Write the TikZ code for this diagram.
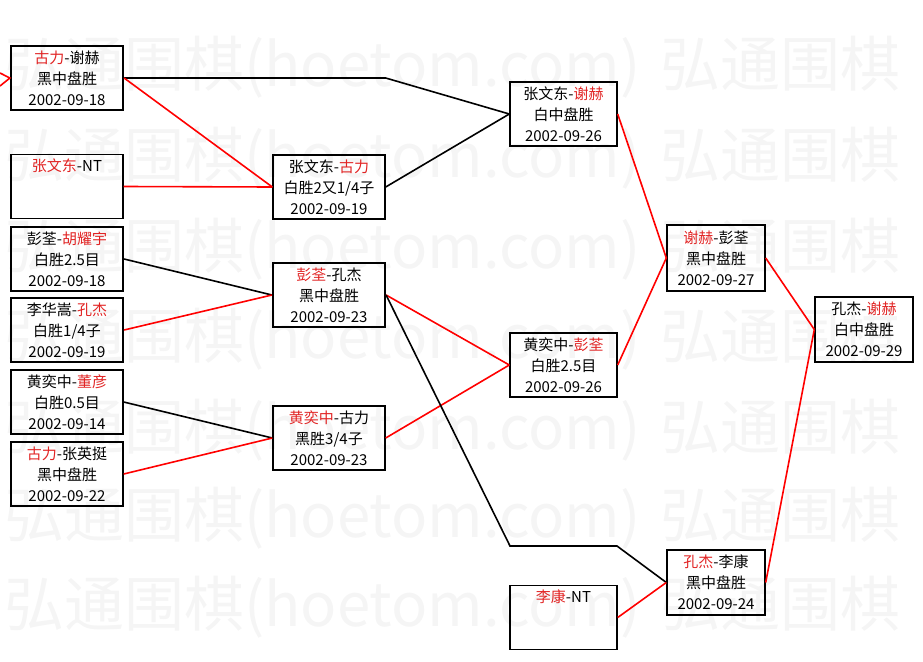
\documentclass[tikz,border=0pt]{standalone}
\usepackage{fontspec}
\usepackage{xcolor}
\usepackage{tikz}
\usetikzlibrary{positioning, calc}
\newfontfamily\cjk{Noto Sans CJK SC}
\definecolor{hred}{RGB}{225,35,35}
\newcommand{\rd}[1]{\textcolor{hred}{#1}}

\begin{document}
\begin{tikzpicture}[x=1pt, y=-1pt,
    game/.style={draw, line width=1.4pt, minimum width=112pt, minimum height=64pt,
        inner sep=0pt, align=center, font=\cjk\fontsize{15}{21}\selectfont},
    thickbox/.style={line width=2.2pt},
    win/.style={red, line width=1.6pt},
    lose/.style={black, line width=1.6pt},
    wmark/.style={anchor=west, inner sep=0pt, text=black!4,
        font=\cjk\fontsize{60}{60}\selectfont}]
    \useasboundingbox (0,0) rectangle (923,661);
    \clip (0,0) rectangle (923,661);
    \foreach \y in {67,158,249,339,430,518,607}
        \node[wmark] at (4,\y) {弘通围棋(hoetom.com)\hspace{20pt}弘通围棋};

    \node[game, thickbox] (a1) at (67,78) {\rd{古力}-谢赫\\ 黑中盘胜\\ 2002-09-18};
    \node[game] (a2) at (67,186.5) {\rd{张文东}-NT\\ \phantom{0}\\ \phantom{0}};
    \node[game, thickbox] (a3) at (67,259) {彭荃-\rd{胡耀宇}\\ 白胜2.5目\\ 2002-09-18};
    \node[game, thickbox] (a4) at (67,330) {李华嵩-\rd{孔杰}\\ 白胜1/4子\\ 2002-09-19};
    \node[game] (a5) at (67,402) {黄奕中-\rd{董彦}\\ 白胜0.5目\\ 2002-09-14};
    \node[game] (a6) at (67,474) {\rd{古力}-张英挺\\ 黑中盘胜\\ 2002-09-22};

    \node[game] (b1) at (329,187) {张文东-\rd{古力}\\ 白胜2又1/4子\\ 2002-09-19};
    \node[game, thickbox] (b2) at (329,295) {\rd{彭荃}-孔杰\\ 黑中盘胜\\ 2002-09-23};
    \node[game] (b3) at (329,438) {\rd{黄奕中}-古力\\ 黑胜3/4子\\ 2002-09-23};

    \node[game, minimum width=107pt] (c1) at (563.5,114) {张文东-\rd{谢赫}\\ 白中盘胜\\ 2002-09-26};
    \node[game, minimum width=107pt] (c2) at (563.5,365) {黄奕中-\rd{彭荃}\\ 白胜2.5目\\ 2002-09-26};
    \node[game, minimum width=107pt] (c3) at (563.5,617.5) {\rd{李康}-NT\\ \phantom{0}\\ \phantom{0}};

    \node[game, minimum width=98pt, minimum height=66pt] (d1) at (716,258) {\rd{谢赫}-彭荃\\ 黑中盘胜\\ 2002-09-27};
    \node[game, minimum width=98pt, minimum height=65pt] (d2) at (716,582.5) {\rd{孔杰}-李康\\ 黑中盘胜\\ 2002-09-24};

    \node[game, minimum width=98pt, minimum height=65pt] (fin) at (864,329.5) {孔杰-\rd{谢赫}\\ 白中盘胜\\ 2002-09-29};

    \coordinate (in1) at (0,73);
    \coordinate (in2) at (0,86);
    \coordinate (k1) at (510,546);
    \coordinate (k2) at (617,546);

    \draw[win] (in1) -- (a1.west) -- (in2);
    \draw[lose] (a1.east) -- (a1.east -| b1.east) -- (c1.west);
    \draw[win] (a1.east) -- (b1.west);
    \draw[win] (a2.east) -- (b1.west);
    \draw[lose] (b1.east) -- (c1.west);
    \draw[lose] (a3.east) -- (b2.west);
    \draw[win] (a4.east) -- (b2.west);
    \draw[lose] (a5.east) -- (b3.west);
    \draw[win] (a6.east) -- (b3.west);
    \draw[win] (b2.east) -- (c2.west);
    \draw[win] (b3.east) -- (c2.west);
    \draw[lose] (b2.east) -- (k1) -- (k2) -- (d2.west);
    \draw[win] (c3.east) -- (d2.west);
    \draw[win] (c1.east) -- (d1.west);
    \draw[win] (c2.east) -- (d1.west);
    \draw[win] (d1.east) -- (fin.west);
    \draw[win] (d2.east) -- (fin.west);
\end{tikzpicture}
\end{document}
